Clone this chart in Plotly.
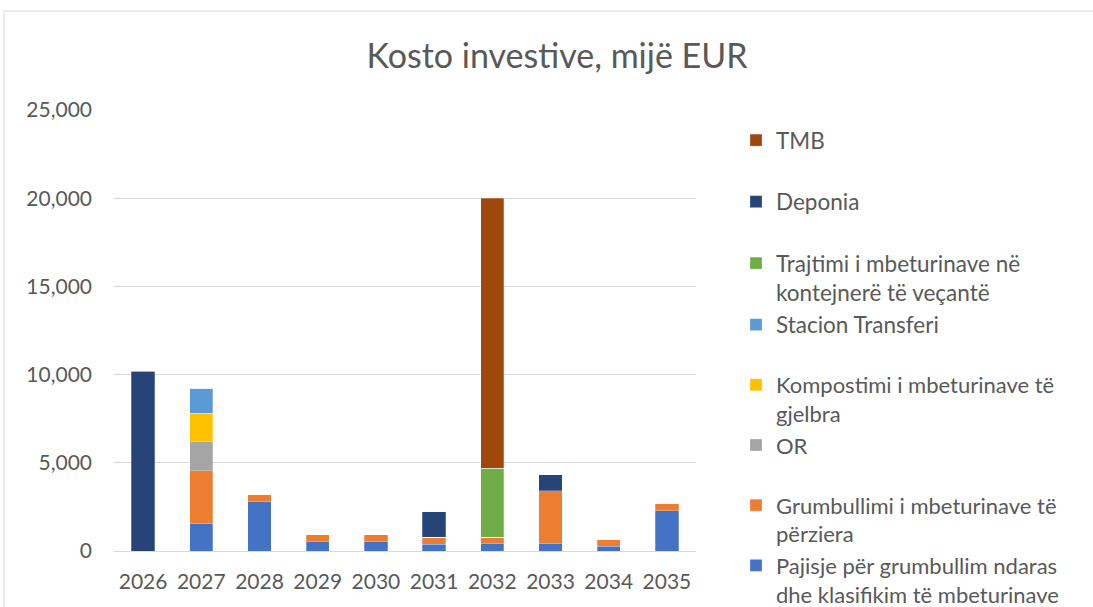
import plotly.graph_objects as go

years = ["2026", "2027", "2028", "2029", "2030", "2031", "2032", "2033", "2034", "2035"]

pajisje = [0, 1550, 2800, 530, 530, 380, 410, 410, 270, 2280]
grumbullimi = [0, 2990, 420, 400, 400, 410, 380, 3010, 410, 420]
or_vals = [0, 1660, 0, 0, 0, 0, 0, 0, 0, 0]
kompostimi = [0, 1620, 0, 0, 0, 0, 0, 0, 0, 0]
stacion = [0, 1420, 0, 0, 0, 0, 0, 0, 0, 0]
trajtimi = [0, 0, 0, 0, 0, 0, 3910, 0, 0, 0]
deponia = [10200, 0, 0, 0, 0, 1440, 0, 910, 0, 0]
tmb = [0, 0, 0, 0, 0, 0, 15300, 0, 0, 0]

# (legend name, values, colour, which legend box)
series = [
    ("Pajisje për grumbullim ndaras<br>dhe klasifikim të mbeturinave", pajisje, "#4472C4", "legend2"),
    ("Grumbullimi i mbeturinave të<br>përziera", grumbullimi, "#ED7D31", "legend2"),
    ("OR<br> ", or_vals, "#A5A5A5", "legend2"),
    ("Kompostimi i mbeturinave të<br>gjelbra", kompostimi, "#FFC000", "legend2"),
    ("Stacion Transferi<br> ", stacion, "#5B9BD5", "legend"),
    ("Trajtimi i mbeturinave në<br>kontejnerë të veçantë", trajtimi, "#70AD47", "legend"),
    ("Deponia<br> ", deponia, "#264478", "legend"),
    ("TMB<br> ", tmb, "#9E480E", "legend"),
]

FONT = "Lato"
TXT = "#595959"

fig = go.Figure()
for name, vals, col, leg in series:
    fig.add_trace(go.Bar(
        x=years, y=vals, name=name, marker_color=col,
        marker_line=dict(color="rgba(255,255,255,0.5)", width=0.5),
        legend=leg,
    ))

W, H = 1093, 607
L, R, T, B = 114, 397, 110, 56
pw = W - L - R
ph = H - T - B

def px_x(p):
    return (p - L) / pw

def px_y(p):
    return (H - B - p) / ph

leg_common = dict(x=px_x(736), xanchor="left", yanchor="top", valign="top",
                  traceorder="reversed", tracegroupgap=0,
                  bgcolor="rgba(0,0,0,0)")

fig.update_layout(
    width=W, height=H,
    margin=dict(l=L, r=R, t=T, b=B, autoexpand=False),
    barmode="stack", bargap=0.6,
    paper_bgcolor="white", plot_bgcolor="white",
    font=dict(family=FONT, color=TXT, size=21),
    title=dict(text="Kosto investive, mijë EUR", x=557 / W, xanchor="center",
               y=1 - 56 / H, yanchor="middle",
               font=dict(family=FONT, size=34, color=TXT)),
    xaxis=dict(showgrid=False, showline=True, linecolor="#d9d9d9", linewidth=1,
               ticks="", tickfont=dict(size=21, color=TXT), ticklabelstandoff=12,
               automargin=False),
    yaxis=dict(range=[0, 25000], dtick=5000, tickformat=",", showgrid=True,
               gridcolor="#d9d9d9", gridwidth=1, zeroline=False, showline=False,
               ticks="", tickfont=dict(size=21, color=TXT), ticklabelstandoff=21,
               automargin=False),
    legend=dict(y=px_y(119), font=dict(size=22.5, color=TXT, family=FONT), **leg_common),
    legend2=dict(y=px_y(364), font=dict(size=22, color=TXT, family=FONT), **leg_common),
    showlegend=True,
)

fig.add_shape(type="rect", xref="paper", yref="paper",
              x0=px_x(4), x1=px_x(1110), y0=px_y(640), y1=px_y(11),
              line=dict(color="#d9d9d9", width=1), fillcolor="rgba(0,0,0,0)", layer="below")

fig.write_html("out.html", config={"displayModeBar": False},
               post_script="document.body.style.margin='0';document.body.style.overflow='hidden';")
